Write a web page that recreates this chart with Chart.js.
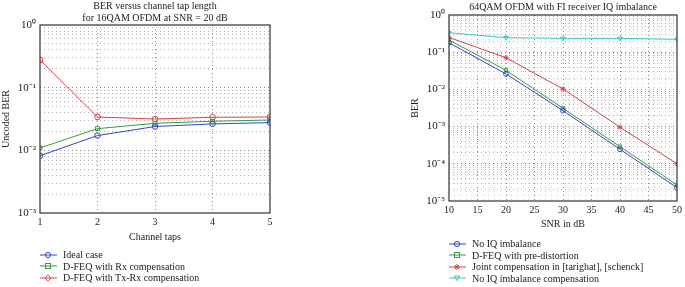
<!DOCTYPE html>
<html>
<head>
<meta charset="utf-8">
<script src="https://cdn.jsdelivr.net/npm/chart.js@4.4.1/dist/chart.umd.min.js"></script>
<style>
  body { margin: 0; background: #fff; }
  #wrap { position: relative; width: 685px; height: 287px; overflow: hidden; font-family: 'Liberation Serif', 'DejaVu Serif', serif; color: #222; }
  canvas { position: absolute; top: 0; }
  .title { position: absolute; font-size: 10px; line-height: 12px; text-align: center; white-space: nowrap; transform: translateX(-50%); }
  .legend { position: absolute; font-size: 10px; }
  .legend .row { height: 11.5px; line-height: 11.5px; display: flex; align-items: center; white-space: nowrap; }
  .legend svg { margin-right: 6px; flex: none; }
</style>
</head>
<body>
<div id="wrap">
  <canvas id="tapChart" width="340" height="287" style="left:0"></canvas>
  <canvas id="snrChart" width="340" height="287" style="left:345px"></canvas>
  <div class="title" style="left:155px; top:0px">BER versus channel tap length<br>for 16QAM OFDM at SNR = 20 dB</div>
  <div class="title" style="left:563px; top:1px">64QAM OFDM with FI receiver IQ imbalance</div>
  <div class="legend" id="legendLeft" style="left:40px; top:249px"></div>
  <div class="legend" id="legendRight" style="left:449px; top:238px"></div>
</div>
<script>
// left panel: BER vs channel taps
const TAPS = [1, 2, 3, 4, 5];
const idealCase = [0.0082, 0.0172, 0.024, 0.0264, 0.0277];
const rxComp = [0.0109, 0.0222, 0.027, 0.0291, 0.0305];
const txRxComp = [0.277, 0.034, 0.0316, 0.0337, 0.034];

// right panel: BER vs SNR
const SNR = [10, 20, 30, 40, 50];
const noIq = [0.18, 0.026, 0.00268, 0.000245, 0.0000228];
const preDist = [0.213, 0.0326, 0.0031, 0.00029, 0.000027];
const jointComp = [0.25, 0.071, 0.0103, 0.00096, 0.0001];
const noComp = [0.335, 0.245, 0.236, 0.236, 0.222];

const BLUE = '#3346c4', GREEN = '#3a9a45', RED = '#d9404a', CYAN = '#3cc4c8';
const FONT = { family: "'Liberation Serif', serif", size: 10 };
const TICKFONT = { family: "'Liberation Serif', serif", size: 11 };
const SUP = { '-': '⁻', '0': '⁰', '1': '¹', '2': '²', '3': '³', '4': '⁴', '5': '⁵' };

function logTicks(minExp, maxExp) {
    const out = [];
    for (let e = minExp; e < maxExp; e++) {
        for (let k = 1; k < 10; k++) out.push(k * Math.pow(10, e));
    }
    out.push(Math.pow(10, maxExp));
    return out;
}
function isPow10(v) {
    const l = Math.log10(v);
    return Math.abs(l - Math.round(l)) < 1e-6;
}
function powLabel(v) {
    const e = String(Math.round(Math.log10(v)));
    return '10' + e.split('').map(c => SUP[c]).join('');
}

// box around the plot area, like matlab
const frame = {
    id: 'frame',
    afterDraw(chart) {
        const a = chart.chartArea, ctx = chart.ctx;
        ctx.save();
        ctx.strokeStyle = '#333';
        ctx.lineWidth = 1.2;
        ctx.strokeRect(a.left, a.top, a.right - a.left, a.bottom - a.top);
        ctx.restore();
    }
};

function series(label, data, color, style, rot, r) {
    return {
        label, data,
        borderColor: color,
        backgroundColor: 'rgba(255,255,255,0)',
        borderWidth: 1,
        pointStyle: style,
        pointRotation: rot || 0,
        pointRadius: r || 2.8,
        pointBorderWidth: 1,
        pointBorderColor: color,
        pointBackgroundColor: 'rgba(255,255,255,0)',
        tension: 0
    };
}

function makeChart(id, xs, datasets, opts) {
    return new Chart(document.getElementById(id), {
        type: 'line',
        data: {
            datasets: datasets.map(d => Object.assign(d, { data: d.data.map((y, i) => ({ x: xs[i], y })) }))
        },
        options: {
            responsive: false,
            animation: false,
            layout: { padding: opts.padding },
            plugins: { legend: { display: false }, tooltip: { enabled: false } },
            scales: {
                x: {
                    type: 'linear',
                    min: opts.xMin, max: opts.xMax,
                    afterBuildTicks: s => { s.ticks = opts.xTicks.map(v => ({ value: v })); },
                    afterFit: s => { s.height = opts.xHeight; },
                    ticks: {
                        font: FONT, color: '#222', padding: 3, maxRotation: 0, autoSkip: false,
                        callback: v => (opts.xLabelEvery ? (v % opts.xLabelEvery === 0 ? v : '') : v)
                    },
                    grid: {
                        drawTicks: false,
                        color: c => {
                            const v = c.tick ? c.tick.value : 0;
                            if (v === opts.xMin || v === opts.xMax) return 'rgba(0,0,0,0)';
                            if (opts.xLabelEvery && v % opts.xLabelEvery !== 0) return '#d6d6d6';
                            return '#8a8a8a';
                        },
                        lineWidth: 1
                    },
                    border: { display: false, dash: [1, 3] },
                    title: { display: true, text: opts.xTitle, font: FONT, color: '#222', padding: 0 }
                },
                y: {
                    type: 'logarithmic',
                    min: opts.yMin, max: opts.yMax,
                    afterBuildTicks: s => { s.ticks = opts.yTicks.map(v => ({ value: v })); },
                    afterFit: s => { s.width = 40; },
                    ticks: {
                        font: TICKFONT, color: '#222', padding: 4, autoSkip: false,
                        callback: v => (isPow10(v) ? powLabel(v) : '')
                    },
                    grid: {
                        drawTicks: false,
                        color: c => {
                            const v = c.tick ? c.tick.value : 1;
                            if (v === opts.yMin || v === opts.yMax) return 'rgba(0,0,0,0)';
                            return isPow10(v) ? '#8a8a8a' : '#b4b4b4';
                        },
                        lineWidth: 1
                    },
                    border: { display: false, dash: [1, 3] },
                    title: { display: true, text: opts.yTitle, font: FONT, color: '#222', padding: 0 }
                }
            }
        },
        plugins: [frame]
    });
}

makeChart('tapChart', TAPS, [
    series('Ideal case', idealCase, BLUE, 'circle'),
    series('D-FEQ with Rx compensation', rxComp, GREEN, 'rect'),
    series('D-FEQ with Tx-Rx compensation', txRxComp, RED, 'circle')
], {
    padding: { top: 25, right: 70, bottom: 44, left: 0 },
    xMin: 1, xMax: 5, xTicks: TAPS, xHeight: 30, xTitle: 'Channel taps',
    yMin: 0.001, yMax: 1, yTicks: logTicks(-3, 0), yTitle: 'Uncoded BER'
});

const snrTicks = [];
for (let v = 10; v <= 50; v++) snrTicks.push(v);

makeChart('snrChart', SNR, [
    series('No IQ imbalance', noIq, BLUE, 'circle', 0, 2.4),
    series('D-FEQ with pre-distortion', preDist, GREEN, 'rect', 0, 2.4),
    series('Joint compensation in [tarighat], [schenck]', jointComp, RED, 'star', 0, 2.6),
    series('No IQ imbalance compensation', noComp, CYAN, 'triangle', 180, 2.6)
], {
    padding: { top: 15, right: 8, bottom: 57, left: 64 },
    xMin: 10, xMax: 50, xTicks: snrTicks, xLabelEvery: 5, xHeight: 29, xTitle: 'SNR in dB',
    yMin: 0.00001, yMax: 1, yTicks: logTicks(-5, 0), yTitle: 'BER'
});

// legends: line with marker, then text
function marker(style, color) {
    if (style === 'circle') return `<circle cx="8" cy="5" r="2.6" fill="none" stroke="${color}"/>`;
    if (style === 'rect') return `<rect x="5.5" y="2.5" width="5" height="5" fill="none" stroke="${color}"/>`;
    if (style === 'diamond') return `<path d="M8 1.8L11 5L8 8.2L5 5Z" fill="none" stroke="${color}"/>`;
    if (style === 'star') return `<path d="M5 5H11M8 2V8M6 3L10 7M10 3L6 7" stroke="${color}"/>`;
    return `<path d="M5.2 3H10.8L8 7.6Z" fill="none" stroke="${color}"/>`;
}
function buildLegend(id, items) {
    document.getElementById(id).innerHTML = items.map(it =>
        `<div class="row"><svg width="17" height="10"><line x1="0" y1="5" x2="17" y2="5" stroke="${it[2]}" stroke-width="1"/>${marker(it[1], it[2])}</svg>${it[0]}</div>`
    ).join('');
}
buildLegend('legendLeft', [
    ['Ideal case', 'circle', BLUE],
    ['D-FEQ with Rx compensation', 'rect', GREEN],
    ['D-FEQ with Tx-Rx compensation', 'diamond', RED]
]);
buildLegend('legendRight', [
    ['No IQ imbalance', 'circle', BLUE],
    ['D-FEQ with pre-distortion', 'rect', GREEN],
    ['Joint compensation in [tarighat], [schenck]', 'star', RED],
    ['No IQ imbalance compensation', 'tri', CYAN]
]);
</script>
</body>
</html>
